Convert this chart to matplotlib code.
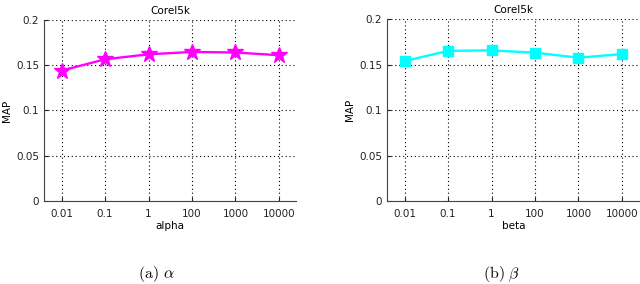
import matplotlib.pyplot as plt
import numpy as np

plt.rcParams['font.family'] = ['DejaVu Sans']
plt.rcParams['mathtext.fontset'] = 'cm'

param_labels = ['0.01', '0.1', '1', '100', '1000', '10000']
alpha_map = [0.144, 0.1565, 0.162, 0.1646, 0.164, 0.161]
beta_map = [0.1538, 0.165, 0.1656, 0.163, 0.1575, 0.1615]
yticks = [0, 0.05, 0.1, 0.15, 0.2]
ytick_labels = ['0', '0.05', '0.1', '0.15', '0.2']

fig = plt.figure(figsize=(6.4, 2.84), dpi=100)
ax1 = fig.add_axes([0.069, 0.292, 0.394, 0.638])
ax2 = fig.add_axes([0.605, 0.292, 0.394, 0.641])

panels = [
    (ax1, alpha_map, 'alpha', '#ff00ff', '*', 12, r'$\mathrm{(a)}\ \alpha$', 0.244),
    (ax2, beta_map, 'beta', '#00ffff', 's', 7, r'$\mathrm{(b)}\ \beta$', 0.784),
]

x = np.arange(1, len(param_labels) + 1)
for ax, vals, xl, col, mk, ms, cap, cx in panels:
    ax.plot(x, vals, color=col, linewidth=1.7, marker=mk, markersize=ms,
            markerfacecolor=col, markeredgecolor=col)
    ax.set_xlim(0.6, 6.4)
    ax.set_ylim(0, 0.2)
    ax.set_xticks(x)
    ax.set_xticklabels(param_labels)
    ax.set_yticks(yticks)
    ax.set_yticklabels(ytick_labels)
    ax.grid(True, linestyle=(0, (1, 2.5)), color='black', linewidth=0.8)
    ax.spines['top'].set_visible(False)
    ax.spines['right'].set_visible(False)
    for s in ['left', 'bottom']:
        ax.spines[s].set_color('#444444')
    ax.tick_params(direction='in', length=3, labelsize=7.5, colors='#222222')
    ax.tick_params(axis='x', pad=6)
    ax.tick_params(axis='y', pad=3.5)
    ax.set_xlabel(xl, fontsize=7.5, labelpad=1)
    ax.set_ylabel('MAP', fontsize=7.5, labelpad=3)
    ax.set_title('Corel5k', fontsize=7.5, pad=4)
    fig.text(cx, 0.035, cap, fontsize=11.5, ha='center', va='center')

fig.savefig('out.png', dpi=100)
